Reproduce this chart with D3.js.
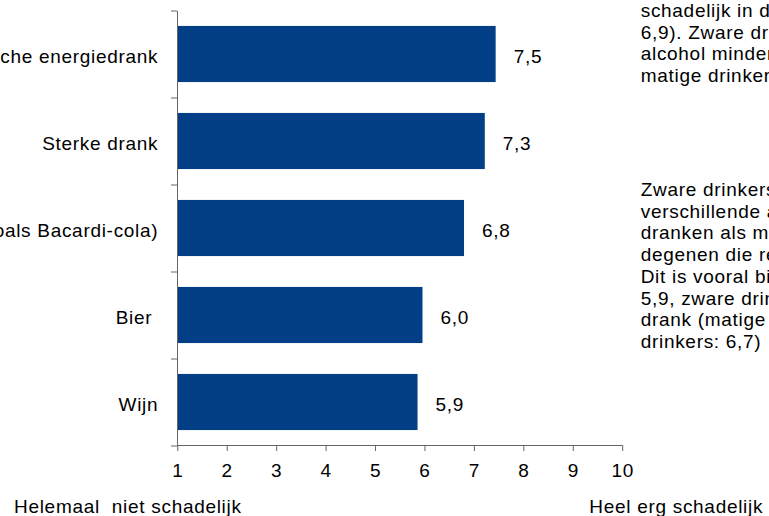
<!DOCTYPE html>
<html>
<head>
<meta charset="utf-8">
<script src="https://cdn.jsdelivr.net/npm/d3@7"></script>
<style>
	body { margin: 0; background: #fff; }
	svg { display: block; }
	text { font-family: "Liberation Sans", Arial, sans-serif; fill: #000; letter-spacing: 0.7px; white-space: pre; }
</style>
</head>
<body>
<div id="chart"></div>
<script>
// drinks, top to bottom
var categories = ['Alcoholische energiedrank', 'Sterke drank', 'Mixdrankjes (zoals Bacardi-cola)', 'Bier ', 'Wijn'];
// mean harmfulness score (1-10), as drawn
var values = [7.44, 7.22, 6.80, 5.96, 5.86];
var valueLabels = ['7,5', '7,3', '6,8', '6,0', '5,9'];
var xTicks = [1, 2, 3, 4, 5, 6, 7, 8, 9, 10];
var scaleEndLabels = ['Helemaal  niet schadelijk', 'Heel erg schadelijk'];
var noteLinesTop = ['schadelijk in de', '6,9). Zware drinkers', 'alcohol minder', 'matige drinkers'];
var noteLinesBottom = ['Zware drinkers vinden', 'verschillende alcoholische', 'dranken als minder', 'degenen die regelmatig',
	'Dit is vooral bij bier', '5,9, zware drinkers', 'drank (matige drinkers', 'drinkers: 6,7)'];

const BarChart = {
	width: 769,
	height: 516,
	plot: { left: 177.3, right: 622.2, top: 10.5, bottom: 445.5 },
	fontSize: 19,
	barColor: '#023f87',
	axisColor: '#666',

	svg: null,
	x: null,
	y: null,

	init: function() {
		const self = this;
		var plot = self.plot;

		self.svg = d3.select('#chart').append('svg')
			.attr('width', self.width)
			.attr('height', self.height);

		self.x = d3.scaleLinear()
			.domain([1, 10])
			.range([plot.left, plot.right]);

		self.y = d3.scaleBand()
			.domain(categories)
			.range([plot.top, plot.bottom])
			.paddingInner(0.355)
			.paddingOuter(0.1775);
	},
	update: function() {
		BarChart.drawBars();
		BarChart.drawAxes();
		BarChart.drawCategoryLabels();
		BarChart.drawValueLabels();
		BarChart.drawScaleEnds();
		BarChart.drawNotes();
	},

	// bars

	drawBars: function() {
		const self = this;
		var x = self.x, y = self.y;

		self.svg.append('g')
			.attr('class', 'bars')
			.selectAll('rect')
			.data(values)
			.enter()
			.append('rect')
			.attr('x', x(1))
			.attr('y', function(d, i) { return y(categories[i]); })
			.attr('width', function(d) { return x(d) - x(1); })
			.attr('height', y.bandwidth())
			.attr('fill', self.barColor);
	},

	// axes

	drawAxes: function() {
		const self = this;
		var plot = self.plot;
		var fontSize = self.fontSize;

		// y axis: ticks sit on the band edges, so use a plain 0..n scale
		var yEdges = d3.scaleLinear()
			.domain([0, categories.length])
			.range([plot.top, plot.bottom]);

		var yAxis = self.svg.append('g')
			.attr('transform', 'translate(' + [ Math.round(plot.left), 0 ] + ')')
			.call(d3.axisLeft(yEdges)
				.tickValues(d3.range(categories.length + 1))
				.tickSize(6)
				.tickSizeOuter(0)
				.tickFormat(''));
		yAxis.selectAll('text').remove();

		var xAxis = self.svg.append('g')
			.attr('transform', 'translate(' + [ 0, Math.round(plot.bottom) - 1 ] + ')')
			.call(d3.axisBottom(self.x)
				.tickValues(xTicks)
				.tickSize(6)
				.tickSizeOuter(0)
				.tickPadding(13)
				.tickFormat(d3.format('d')));

		self.svg.selectAll('.domain, .tick line')
			.attr('stroke', self.axisColor);
		xAxis.selectAll('text')
			.attr('fill', '#000')
			.style('font-size', fontSize + 'px')
			.style('font-family', '"Liberation Sans", Arial, sans-serif');
	},

	// labels

	drawCategoryLabels: function() {
		const self = this;
		var y = self.y;

		self.svg.append('g')
			.selectAll('text')
			.data(categories)
			.enter()
			.append('text')
			.attr('x', self.plot.left - 19)
			.attr('y', function(d) { return y(d) + y.bandwidth() / 2 + 8.5; })
			.attr('text-anchor', 'end')
			.style('font-size', self.fontSize + 'px')
			.text(function(d) { return d; });
	},
	drawValueLabels: function() {
		const self = this;
		var x = self.x, y = self.y;

		self.svg.append('g')
			.selectAll('text')
			.data(values)
			.enter()
			.append('text')
			.attr('x', function(d) { return x(d) + 18; })
			.attr('y', function(d, i) { return y(categories[i]) + y.bandwidth() / 2 + 9.3; })
			.style('font-size', self.fontSize + 'px')
			.text(function(d, i) { return valueLabels[i]; });
	},
	drawScaleEnds: function() {
		const self = this;

		self.svg.append('text')
			.attr('x', 14)
			.attr('y', 513.3)
			.style('font-size', self.fontSize + 'px')
			.text(scaleEndLabels[0]);
		self.svg.append('text')
			.attr('x', 589.3)
			.attr('y', 513.3)
			.style('font-size', self.fontSize + 'px')
			.text(scaleEndLabels[1]);
	},

	// side notes (cut off by the right edge in the original)

	drawNotes: function() {
		const self = this;
		var lineHeight = 21.7;

		var noteTop = self.svg.append('text')
			.style('font-size', self.fontSize + 'px');
		noteTop.selectAll('tspan')
			.data(noteLinesTop)
			.enter()
			.append('tspan')
			.attr('x', 640.7)
			.attr('y', function(d, i) { return 17 + i * lineHeight; })
			.text(function(d) { return d; });

		var noteBottom = self.svg.append('text')
			.style('font-size', self.fontSize + 'px');
		noteBottom.selectAll('tspan')
			.data(noteLinesBottom)
			.enter()
			.append('tspan')
			.attr('x', 640.7)
			.attr('y', function(d, i) { return 196 + i * lineHeight; })
			.text(function(d) { return d; });
	}
};

BarChart.init();
BarChart.update();
</script>
</body>
</html>
